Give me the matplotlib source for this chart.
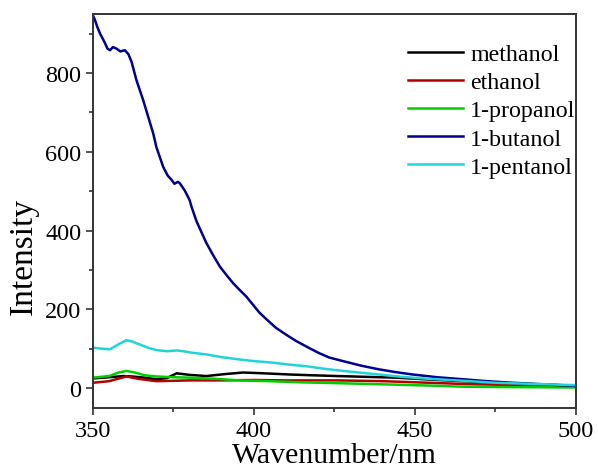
import numpy as np
import matplotlib.pyplot as plt

plt.rcParams['font.family'] = ['Liberation Serif', 'DejaVu Serif']

# emission spectra of the alcohols, read point by point
wl_meth = [350, 355, 359.4, 362, 366, 369.7, 373, 376, 380, 385.2, 391, 396.6, 403, 411, 418, 426, 435, 444, 455, 464.8, 475, 485, 492, 500]
i_meth = [25, 28, 31, 30, 27, 23, 26, 38, 34, 31, 36, 40, 38, 35, 33, 31, 29, 27, 22, 18, 14, 11, 9, 6]

wl_eth = [350, 355, 360.4, 364, 369.7, 375, 380, 390.4, 400, 410, 426, 440, 454.4, 465, 475, 485, 500]
i_eth = [14, 18, 30, 24, 18, 19, 20, 20, 21, 20, 20, 18, 14, 11, 9, 7, 5]

wl_prop = [350, 355, 358, 360.4, 363, 366, 369.7, 375, 380, 388, 395.6, 405, 415, 426, 440, 454, 464.8, 480, 500]
i_prop = [27, 31, 40, 44, 40, 33, 30, 28, 27, 24, 20, 18, 15, 13, 10, 7, 4, 3, 2]

wl_but = [350, 350.6, 351.3, 352.2, 353.5, 354.5, 355.3, 356.2, 357.3, 358.5, 359.9, 361, 362,
          363.5, 365.6, 368.7, 369.7, 371.8, 373.2, 374.4, 375.3, 376.4, 377, 378.5,
          380, 380.6, 382.1, 383.2, 385.2, 387.3, 389.4, 391.4, 393.5, 395.5, 397.6,
          399.7, 401.7, 404.3, 406.9, 410, 413.1, 417.2, 420.3, 423.4, 428.6, 433.5,
          438.9, 444, 449.3, 457, 464.8, 472.5, 480.3, 490, 500]
i_but = [946, 935, 918, 900, 880, 862, 858, 866, 862, 855, 858, 848, 828,
         782, 731, 647, 612, 562, 540, 529, 519, 524, 520, 502,
         478, 461, 425, 405, 369, 338, 309, 288, 267, 250, 233,
         212, 192, 172, 153, 136, 120, 102, 89, 78, 67, 57,
         48, 41, 35, 28, 23, 18, 14, 10, 6]

wl_pent = [350, 352, 355.3, 358, 360.4, 362, 364.6, 367, 369.7, 373, 376, 378, 381, 385.2, 390, 395.6, 400, 405.9, 411, 416.2, 423.4, 430, 438.9, 446, 454.4, 465, 475, 487, 500]
i_pent = [103, 101, 99, 112, 122, 119, 111, 103, 97, 94, 96, 94, 90, 86, 79, 73, 69, 65, 60, 56, 48, 42, 35, 29, 24, 19, 14, 11, 8]

series = [
    ('methanol', wl_meth, i_meth, '#000000'),
    ('ethanol', wl_eth, i_eth, '#b00000'),
    ('1-propanol', wl_prop, i_prop, '#00cc00'),
    ('1-butanol', wl_but, i_but, '#00008f'),
    ('1-pentanol', wl_pent, i_pent, '#22d3d8'),
]

fig = plt.figure(figsize=(5.98, 4.77), dpi=100)
ax = fig.add_axes([0.1555, 0.1426, 0.8075, 0.826])

for name, x, y, c in series:
    ax.plot(x, y, color=c, lw=1.8, label=name)

ax.set_xlim(350, 500)
ax.set_ylim(-50, 950)
ax.set_xticks([350, 400, 450, 500])
ax.set_xticks(np.arange(375, 500, 50), minor=True)
ax.set_yticks([0, 200, 400, 600, 800])
ax.set_yticks([100, 300, 500, 700, 900], minor=True)
ax.tick_params(which='major', direction='out', length=5, width=1.2, labelsize=17.5, color='#333333')
ax.tick_params(which='minor', direction='out', length=3, width=1.2, color='#333333')
for s in ax.spines.values():
    s.set_linewidth(1.4)
    s.set_color('#333333')

ax.set_xlabel('Wavenumber/nm', fontsize=21.5, labelpad=1)
ax.set_ylabel('Intensity', fontsize=24)
ax.yaxis.set_label_coords(-0.113, 0.388)

ax.legend(loc='upper left', frameon=False, fontsize=17.3, handlelength=2.3,
          labelspacing=0.26, handletextpad=0.3, borderpad=0, borderaxespad=0,
          bbox_to_anchor=(0.652, 0.925))

fig.savefig('out.png', dpi=100)
